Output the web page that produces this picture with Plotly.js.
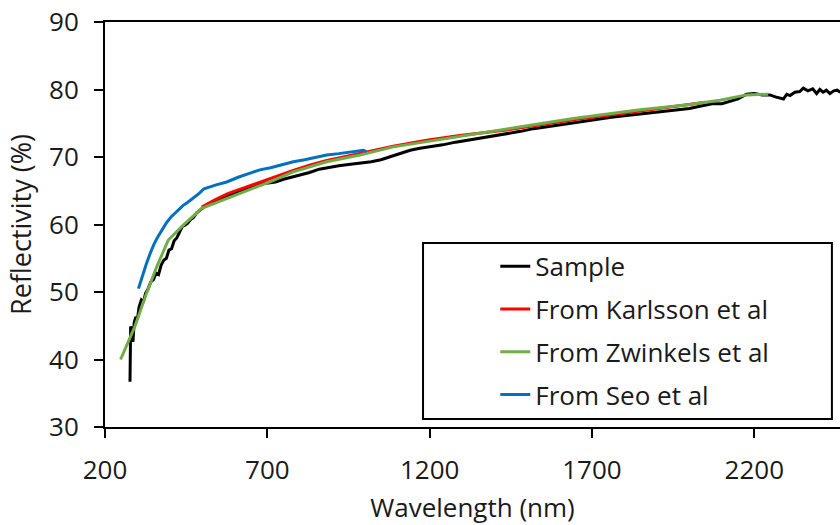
<!DOCTYPE html>
<html>
<head>
<meta charset="utf-8">
<script src="https://cdn.plot.ly/plotly-3.0.1.min.js"></script>
<style>html,body{margin:0;padding:0;background:#fff;}#chart{width:840px;height:525px;}</style>
</head>
<body>
<div id="chart"></div>
<script>
// Sample (black)
const sampleX = [277, 279, 282, 286, 290, 295, 300, 305, 312, 318, 325, 333, 341, 349, 357, 365, 373, 381, 389, 397, 405, 413, 421, 430, 438, 446, 455, 463, 472, 482, 493, 505, 518, 532, 548, 565, 582, 600, 620, 640, 660, 680, 700, 725, 750, 775, 800, 830, 860, 890, 920, 950, 985, 1020, 1050, 1080, 1110, 1140, 1170, 1200, 1240, 1280, 1320, 1360, 1400, 1440, 1480, 1520, 1560, 1600, 1640, 1680, 1720, 1760, 1800, 1840, 1880, 1920, 1960, 2000, 2040, 2070, 2100, 2125, 2150, 2176, 2200, 2225, 2248, 2265, 2280, 2290, 2300, 2310, 2325, 2340, 2351, 2365, 2380, 2392, 2402, 2412, 2422, 2433, 2445, 2455, 2465];
const sampleY = [36.7, 44.9, 44.5, 42.6, 45.5, 46.3, 46.0, 47.8, 48.8, 48.5, 49.8, 50.5, 51.5, 51.8, 52.8, 52.6, 54.0, 54.7, 55.0, 56.2, 56.4, 57.6, 58.0, 58.8, 59.7, 59.9, 60.2, 60.7, 61.0, 61.7, 62.2, 62.6, 63.0, 63.3, 63.6, 64.0, 64.4, 64.6, 65.0, 65.4, 65.8, 66.0, 66.1, 66.3, 66.7, 67.0, 67.3, 67.7, 68.2, 68.5, 68.7, 68.9, 69.1, 69.3, 69.6, 70.1, 70.6, 71.0, 71.3, 71.5, 71.8, 72.2, 72.5, 72.9, 73.2, 73.5, 73.8, 74.2, 74.5, 74.8, 75.1, 75.4, 75.6, 75.9, 76.1, 76.3, 76.6, 76.8, 77.0, 77.2, 77.6, 77.9, 77.9, 78.2, 78.6, 79.3, 79.4, 79.2, 79.2, 78.9, 78.7, 78.6, 79.3, 79.1, 79.6, 79.7, 80.2, 79.8, 80.1, 79.4, 80.0, 79.6, 79.9, 79.4, 79.8, 79.9, 79.6];

// From Karlsson et al (red)
const karlssonX = [498, 540, 580, 626, 677, 730, 780, 830, 883, 935, 985, 1088, 1191, 1293, 1437, 1642, 1848, 1950, 2050];
const karlssonY = [62.6, 63.7, 64.6, 65.4, 66.3, 67.2, 68.0, 68.8, 69.5, 70.0, 70.5, 71.6, 72.5, 73.2, 74.0, 75.5, 76.8, 77.5, 78.1];

// From Zwinkels et al (green)
const zwinkelsX = [248, 292, 328, 359, 395, 441, 498, 575, 657, 708, 780, 883, 985, 1088, 1191, 1293, 1437, 1642, 1848, 1991, 2094, 2176, 2243];
const zwinkelsY = [40.0, 44.9, 49.8, 53.7, 57.7, 59.9, 62.4, 63.9, 65.4, 66.3, 67.8, 69.3, 70.3, 71.5, 72.3, 73.0, 74.1, 75.7, 77.0, 77.7, 78.4, 79.2, 79.3];

// From Seo et al (blue)
const seoX = [303, 315, 327, 339, 351, 363, 375, 390, 405, 421, 440, 455, 472, 490, 505, 523, 545, 575, 610, 647, 677, 710, 745, 780, 815, 850, 883, 920, 960, 996, 1005];
const seoY = [50.5, 52.4, 54.1, 55.7, 57.1, 58.2, 59.2, 60.3, 61.2, 61.9, 62.8, 63.3, 63.9, 64.6, 65.3, 65.6, 65.9, 66.3, 67.0, 67.6, 68.1, 68.4, 68.9, 69.3, 69.6, 70.0, 70.3, 70.5, 70.8, 71.0, 70.8];

const xTicks = [200, 700, 1200, 1700, 2200];
const yTicks = [30, 40, 50, 60, 70, 80, 90];

const FONT = "'Open Sans', sans-serif";
const TXT = '#1a1a1a';

const traces = [
  {x: sampleX, y: sampleY, name: 'Sample', mode: 'lines', line: {color: '#000000', width: 3}, legendgroup: 'a'},
  {x: karlssonX, y: karlssonY, name: 'From Karlsson et al', mode: 'lines', line: {color: '#FF0000', width: 3}, legendgroup: 'b'},
  {x: zwinkelsX, y: zwinkelsY, name: 'From Zwinkels et al', mode: 'lines', line: {color: '#70AD47', width: 3}, legendgroup: 'c'},
  {x: seoX, y: seoY, name: 'From Seo et al', mode: 'lines', line: {color: '#0070C0', width: 3}, legendgroup: 'd'}
];

const layout = {
  width: 840, height: 525,
  margin: {l: 105, r: 0, t: 22, b: 98},
  paper_bgcolor: '#ffffff', plot_bgcolor: '#ffffff',
  font: {family: FONT, color: TXT, size: 24},
  showlegend: true,
  legend: {
    x: 0.531, y: 0.455, xanchor: 'left', yanchor: 'top',
    bgcolor: 'rgba(0,0,0,0)', borderwidth: 0,
    font: {family: FONT, size: 26, color: TXT},
    traceorder: 'grouped', tracegroupgap: 6
  },
  xaxis: {
    range: [200, 2464], tickmode: 'array', tickvals: xTicks, ticktext: xTicks.map(String),
    showline: true, linecolor: '#000', linewidth: 2, mirror: true,
    ticks: 'outside', ticklen: 9, tickwidth: 2, tickcolor: '#000',
    showgrid: false, zeroline: false, ticklabelstandoff: 10,
    tickfont: {family: FONT, size: 26, color: TXT},
    title: {text: 'Wavelength (nm)', font: {family: FONT, size: 26, color: TXT}, standoff: 26}
  },
  yaxis: {
    range: [30, 90], tickmode: 'array', tickvals: yTicks, ticktext: yTicks.map(String),
    showline: true, linecolor: '#000', linewidth: 2,
    ticks: 'outside', ticklen: 9, tickwidth: 2, tickcolor: '#000',
    showgrid: false, zeroline: false, ticklabelstandoff: 10,
    tickfont: {family: FONT, size: 26, color: TXT},
    title: {text: 'Reflectivity (%)', font: {family: FONT, size: 27, color: TXT}, standoff: 10}
  },
  shapes: [{
    type: 'rect', xref: 'paper', yref: 'paper',
    x0: 0.4327, x1: 0.989, y0: 0.0198, y1: 0.4543,
    line: {color: '#000', width: 2}, fillcolor: 'rgba(255,255,255,1)', layer: 'below'
  }]
};

Plotly.newPlot('chart', traces, layout, {displayModeBar: false, staticPlot: true});
</script>
</body>
</html>
